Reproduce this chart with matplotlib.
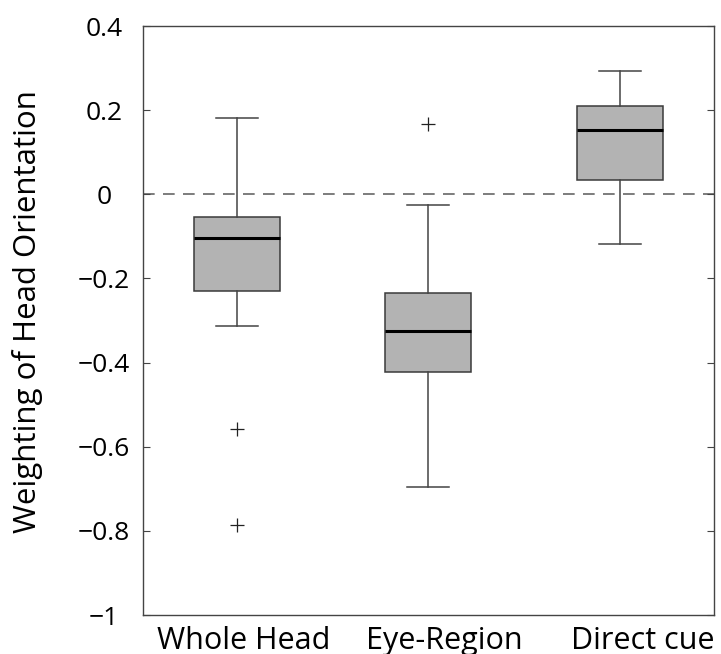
import matplotlib
matplotlib.use("Agg")
import matplotlib.pyplot as plt
from matplotlib.transforms import blended_transform_factory

plt.rcParams['font.family'] = ['Open Sans', 'DejaVu Sans']

# data
groups = ["Whole Head", "Eye-Region", "Direct cue"]
whishi = [0.181, -0.026, 0.293]
q3 = [-0.054, -0.234, 0.209]
med = [-0.104, -0.325, 0.153]
q1 = [-0.229, -0.423, 0.033]
whislo = [-0.313, -0.696, -0.117]
fliers = [[-0.557, -0.785], [0.166], []]
yticks = [0.4, 0.2, 0, -0.2, -0.4, -0.6, -0.8, -1]
ytick_labels = ["0.4", "0.2", "0", "\u22120.2", "\u22120.4", "\u22120.6", "\u22120.8", "\u22121"]

stats = []
for i in range(len(groups)):
    stats.append(dict(label=groups[i], med=med[i], q1=q1[i], q3=q3[i],
                      whislo=whislo[i], whishi=whishi[i], fliers=fliers[i]))

fig = plt.figure(figsize=(7.21, 6.54), dpi=100)
ax = fig.add_axes([0.1983, 0.0596, 0.7917, 0.9006])

ax.axhline(0, color='#666666', lw=1.2, ls=(0, (7, 5)), zorder=1)

ax.bxp(stats, positions=[1, 2, 3], widths=0.45, capwidths=0.22,
       patch_artist=True, showfliers=True,
       boxprops=dict(facecolor='#b3b3b3', edgecolor='#3a3a3a', lw=1.1),
       medianprops=dict(color='black', lw=2.2),
       whiskerprops=dict(color='#444444', lw=1.1, ls='-'),
       capprops=dict(color='#444444', lw=1.1),
       flierprops=dict(marker='+', markersize=10, markeredgecolor='#222222',
                       markeredgewidth=0.9, linestyle='none'),
       zorder=2)

ax.set_xlim(0.51, 3.49)
ax.set_ylim(-1, 0.4)
ax.set_yticks(yticks)
ax.set_yticklabels(ytick_labels, fontsize=19, ha='center')
ax.set_xticks([])
ax.tick_params(axis='y', direction='in', length=5, width=0.8, color='#444444',
               left=True, right=True, pad=28)
for s in ax.spines.values():
    s.set_color('#444444')
    s.set_linewidth(1.0)

ax.set_ylabel("Weighting of Head Orientation", fontsize=22.5, va='center')
ax.yaxis.set_label_coords(-0.202, 0.516)

# category labels sit a little right of the boxes in the original
trans = blended_transform_factory(ax.transData, ax.transAxes)
label_x = [1.037, 2.084, 3.12]
for x, name in zip(label_x, groups):
    ax.text(x, -0.019, name, transform=trans, ha='center', va='top', fontsize=22)

fig.savefig("out.png", dpi=100)
